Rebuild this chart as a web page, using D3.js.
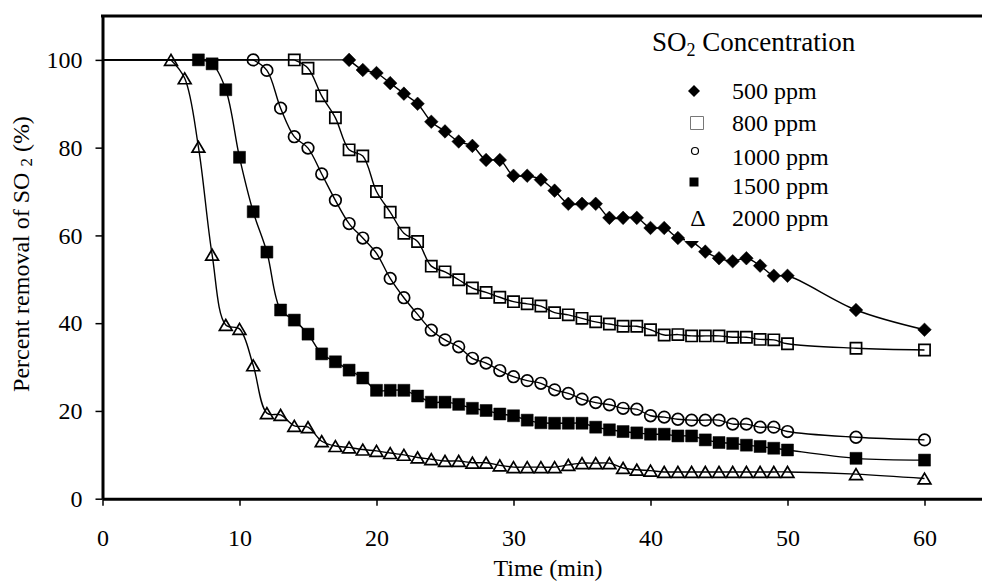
<!DOCTYPE html>
<html>
<head>
<meta charset="utf-8">
<script src="https://cdn.jsdelivr.net/npm/d3@7"></script>
<style>
    body { margin: 0; background: #fff; }
    svg text { font-family: "Liberation Serif", "Times New Roman", serif; fill: #000; }
</style>
</head>
<body>
<div id="chart"></div>
<script>
// time (min) of each reading, one list per series
var time500 = [18, 19, 20, 21, 22, 23, 24, 25, 26, 27, 28, 29, 30, 31, 32, 33, 34, 35, 36, 37, 38, 39, 40, 41, 42, 43, 44, 45, 46, 47, 48, 49, 50, 55, 60];
var time800 = [14, 15, 16, 17, 18, 19, 20, 21, 22, 23, 24, 25, 26, 27, 28, 29, 30, 31, 32, 33, 34, 35, 36, 37, 38, 39, 40, 41, 42, 43, 44, 45, 46, 47, 48, 49, 50, 55, 60];
var time1000 = [11, 12, 13, 14, 15, 16, 17, 18, 19, 20, 21, 22, 23, 24, 25, 26, 27, 28, 29, 30, 31, 32, 33, 34, 35, 36, 37, 38, 39, 40, 41, 42, 43, 44, 45, 46, 47, 48, 49, 50, 55, 60];
var time1500 = [7, 8, 9, 10, 11, 12, 13, 14, 15, 16, 17, 18, 19, 20, 21, 22, 23, 24, 25, 26, 27, 28, 29, 30, 31, 32, 33, 34, 35, 36, 37, 38, 39, 40, 41, 42, 43, 44, 45, 46, 47, 48, 49, 50, 55, 60];
var time2000 = [5, 6, 7, 8, 9, 10, 11, 12, 13, 14, 15, 16, 17, 18, 19, 20, 21, 22, 23, 24, 25, 26, 27, 28, 29, 30, 31, 32, 33, 34, 35, 36, 37, 38, 39, 40, 41, 42, 43, 44, 45, 46, 47, 48, 49, 50, 55, 60];

// percent removal of SO2
var removal500 = [100, 97.7, 97.0, 94.7, 92.3, 90.0, 85.9, 83.7, 81.4, 80.4, 77.2, 77.2, 73.6, 73.6, 72.7, 70.2, 67.2, 67.2, 67.2, 64.0, 64.0, 64.0, 61.7, 61.7, 59.4, 58.6, 56.3, 54.8, 54.1, 54.8, 53.1, 50.8, 50.8, 43.0, 38.5];
var removal800 = [100, 98.1, 91.8, 86.8, 79.5, 78.1, 70.0, 65.3, 60.5, 58.6, 53.0, 51.7, 49.9, 48.0, 47.0, 45.9, 44.9, 44.4, 43.9, 42.4, 41.9, 41.1, 40.3, 39.8, 39.3, 39.3, 38.5, 37.3, 37.4, 37.1, 37.1, 37.1, 36.8, 36.8, 36.3, 36.2, 35.3, 34.3, 33.9];
var removal1000 = [100, 97.6, 89.0, 82.5, 79.9, 74.0, 68.0, 62.7, 59.4, 55.9, 50.2, 45.8, 42.0, 38.4, 36.2, 34.6, 32.0, 30.9, 29.2, 27.8, 26.9, 26.3, 24.8, 24.0, 22.7, 21.9, 21.4, 20.6, 20.4, 18.9, 18.6, 18.1, 17.9, 17.9, 17.9, 17.0, 17.0, 16.3, 16.3, 15.3, 14.0, 13.4];
var removal1500 = [100, 99.1, 93.2, 77.8, 65.4, 56.2, 43.0, 40.7, 37.5, 33.0, 31.2, 29.3, 27.5, 24.7, 24.7, 24.7, 23.4, 22.0, 22.0, 21.5, 20.6, 20.1, 19.3, 18.9, 17.9, 17.3, 17.2, 17.2, 17.2, 16.3, 15.7, 15.3, 15.0, 14.7, 14.7, 14.3, 14.3, 13.4, 12.8, 12.6, 12.2, 11.9, 11.5, 11.1, 9.2, 8.8];
var removal2000 = [100, 95.8, 80.2, 55.6, 39.6, 38.7, 30.4, 19.5, 19.1, 16.6, 16.3, 13.1, 12.0, 11.7, 11.2, 10.9, 10.4, 10.0, 9.4, 9.0, 8.6, 8.6, 8.2, 8.2, 7.6, 7.2, 7.2, 7.2, 7.2, 7.7, 8.1, 8.1, 8.1, 7.0, 6.6, 6.4, 6.1, 6.1, 6.1, 6.1, 6.1, 6.1, 6.1, 6.1, 6.1, 6.1, 5.6, 4.6];

// every curve is flat at 100 % from the start of the run
var lineStart = [0, 100];

var seriesNames = ["500 ppm", "800 ppm", "1000 ppm", "1500 ppm", "2000 ppm"];
var xTicks = [0, 10, 20, 30, 40, 50, 60];
var yTicks = [0, 20, 40, 60, 80, 100];

var width = 982, height = 583;

var series = [
    { name: seriesNames[0], marker: "diamond", t: time500, v: removal500 },
    { name: seriesNames[1], marker: "square", t: time800, v: removal800 },
    { name: seriesNames[2], marker: "circle", t: time1000, v: removal1000 },
    { name: seriesNames[3], marker: "fsquare", t: time1500, v: removal1500 },
    { name: seriesNames[4], marker: "triangle", t: time2000, v: removal2000 }
];

var svg = d3.select("#chart")
    .append("svg")
    .attr("width", width)
    .attr("height", height);

// x runs past the right edge of the picture (frame is cut off there)
var x = d3.scaleLinear().domain([0, 65]).range([102.5, 993]);
var y = d3.scaleLinear().domain([0, 110]).range([498.7, 16]);

// axes
var xAxis = svg.append("g")
    .attr("transform", "translate(0," + y(0) + ")")
    .call(d3.axisBottom(x).tickValues(xTicks).tickSize(7).tickSizeOuter(0).tickPadding(23));
var yAxis = svg.append("g")
    .attr("transform", "translate(" + x(0) + ",0)")
    .call(d3.axisLeft(y).tickValues(yTicks).tickSize(7).tickSizeOuter(0).tickPadding(13));

[xAxis, yAxis].forEach(function (g) {
    g.select(".domain").attr("stroke", "#000").attr("stroke-width", 3);
    g.selectAll(".tick line").attr("stroke", "#000").attr("stroke-width", 1.5);
    g.selectAll(".tick text")
        .style("font-family", "Liberation Serif")
        .style("font-size", "24px")
        .attr("fill", "#000");
});

// top edge of the frame
svg.append("line")
    .attr("x1", x(0) - 1.5).attr("x2", x(65))
    .attr("y1", y(110)).attr("y2", y(110))
    .attr("stroke", "#000").attr("stroke-width", 3);

// smoothed curves through the readings, straight lead-in at 100 %
var line = d3.line()
    .x(function (d) { return x(d[0]); })
    .y(function (d) { return y(d[1]); })
    .curve(d3.curveCatmullRom.alpha(0.5));
var straight = d3.line()
    .x(function (d) { return x(d[0]); })
    .y(function (d) { return y(d[1]); });

series.forEach(function (s) {
    var pts = s.t.map(function (t, i) { return [t, s.v[i]]; });
    svg.append("path")
        .datum([lineStart, pts[0]])
        .attr("d", straight)
        .attr("fill", "none")
        .attr("stroke", "#000")
        .attr("stroke-width", 1.4);
    svg.append("path")
        .datum(pts)
        .attr("d", line)
        .attr("fill", "none")
        .attr("stroke", "#000")
        .attr("stroke-width", 1.4);
});

// marker shapes, drawn around 0,0
function markerPath(type, r) {
    switch (type) {
        case "diamond":
            return "M0," + (-r) + "L" + r + ",0L0," + r + "L" + (-r) + ",0Z";
        case "square":
        case "fsquare":
            return "M" + (-r) + "," + (-r) + "h" + (2 * r) + "v" + (2 * r) + "h" + (-2 * r) + "Z";
        case "triangle":
            var h = r * 0.85;
            return "M0," + (-h) + "L" + r + "," + h + "L" + (-r) + "," + h + "Z";
    }
}

series.forEach(function (s) {
    var g = svg.append("g");
    var pts = s.t.map(function (t, i) { return [t, s.v[i]]; });
    if (s.marker === "circle") {
        g.selectAll("circle")
            .data(pts)
            .enter()
            .append("circle")
            .attr("cx", function (d) { return x(d[0]); })
            .attr("cy", function (d) { return y(d[1]); })
            .attr("r", 5.8)
            .attr("fill", "none")
            .attr("stroke", "#000")
            .attr("stroke-width", 1.7);
        return;
    }
    var size = { diamond: 6.8, square: 5.6, fsquare: 6, triangle: 6.4 }[s.marker];
    var filled = s.marker === "diamond" || s.marker === "fsquare";
    g.selectAll("path")
        .data(pts)
        .enter()
        .append("path")
        .attr("d", markerPath(s.marker, size))
        .attr("transform", function (d) { return "translate(" + x(d[0]) + "," + y(d[1]) + ")"; })
        .attr("fill", filled ? "#000" : "none")
        .attr("stroke", "#000")
        .attr("stroke-width", filled ? 0.5 : 1.7);
});

// legend sits on a white box that hides what is behind it
svg.append("rect")
    .attr("x", 685).attr("y", 68)
    .attr("width", 170).attr("height", 173)
    .attr("fill", "#fff");

var title = svg.append("text")
    .attr("x", 652).attr("y", 51)
    .style("font-size", "27px");
title.append("tspan").text("SO");
title.append("tspan").attr("dy", 5).style("font-size", "18px").text("2");
title.append("tspan").attr("dy", -5).text(" Concentration");

var legendY = [99, 131, 165, 194, 226];
var legend = svg.append("g");
seriesNames.forEach(function (name, i) {
    legend.append("text")
        .attr("x", 732).attr("y", legendY[i])
        .style("font-size", "24px")
        .text(name);
});
// legend symbols (smaller than the plot markers)
legend.append("path").attr("d", markerPath("diamond", 6))
    .attr("transform", "translate(694,91)").attr("fill", "#000");
legend.append("path").attr("d", markerPath("square", 6.5))
    .attr("transform", "translate(697,123)").attr("fill", "none")
    .attr("stroke", "#777").attr("stroke-width", 1);
legend.append("circle").attr("cx", 695).attr("cy", 151).attr("r", 3.5)
    .attr("fill", "none").attr("stroke", "#000").attr("stroke-width", 1.2);
legend.append("path").attr("d", markerPath("fsquare", 4.5))
    .attr("transform", "translate(694,182)").attr("fill", "#000");
legend.append("text")
    .attr("x", 698).attr("y", legendY[4])
    .attr("text-anchor", "middle")
    .style("font-size", "24px")
    .text("\u0394");

// axis titles
svg.append("text")
    .attr("x", 548).attr("y", 576)
    .attr("text-anchor", "middle")
    .style("font-size", "24px")
    .text("Time (min)");

var yTitle = svg.append("text")
    .attr("transform", "translate(29,254) rotate(-90)")
    .attr("text-anchor", "middle")
    .style("font-size", "24px");
yTitle.append("tspan").text("Percent removal of SO ");
yTitle.append("tspan").attr("dy", 3).style("font-size", "17px").text("2");
yTitle.append("tspan").attr("dy", -3).text(" (%)");
</script>
</body>
</html>
